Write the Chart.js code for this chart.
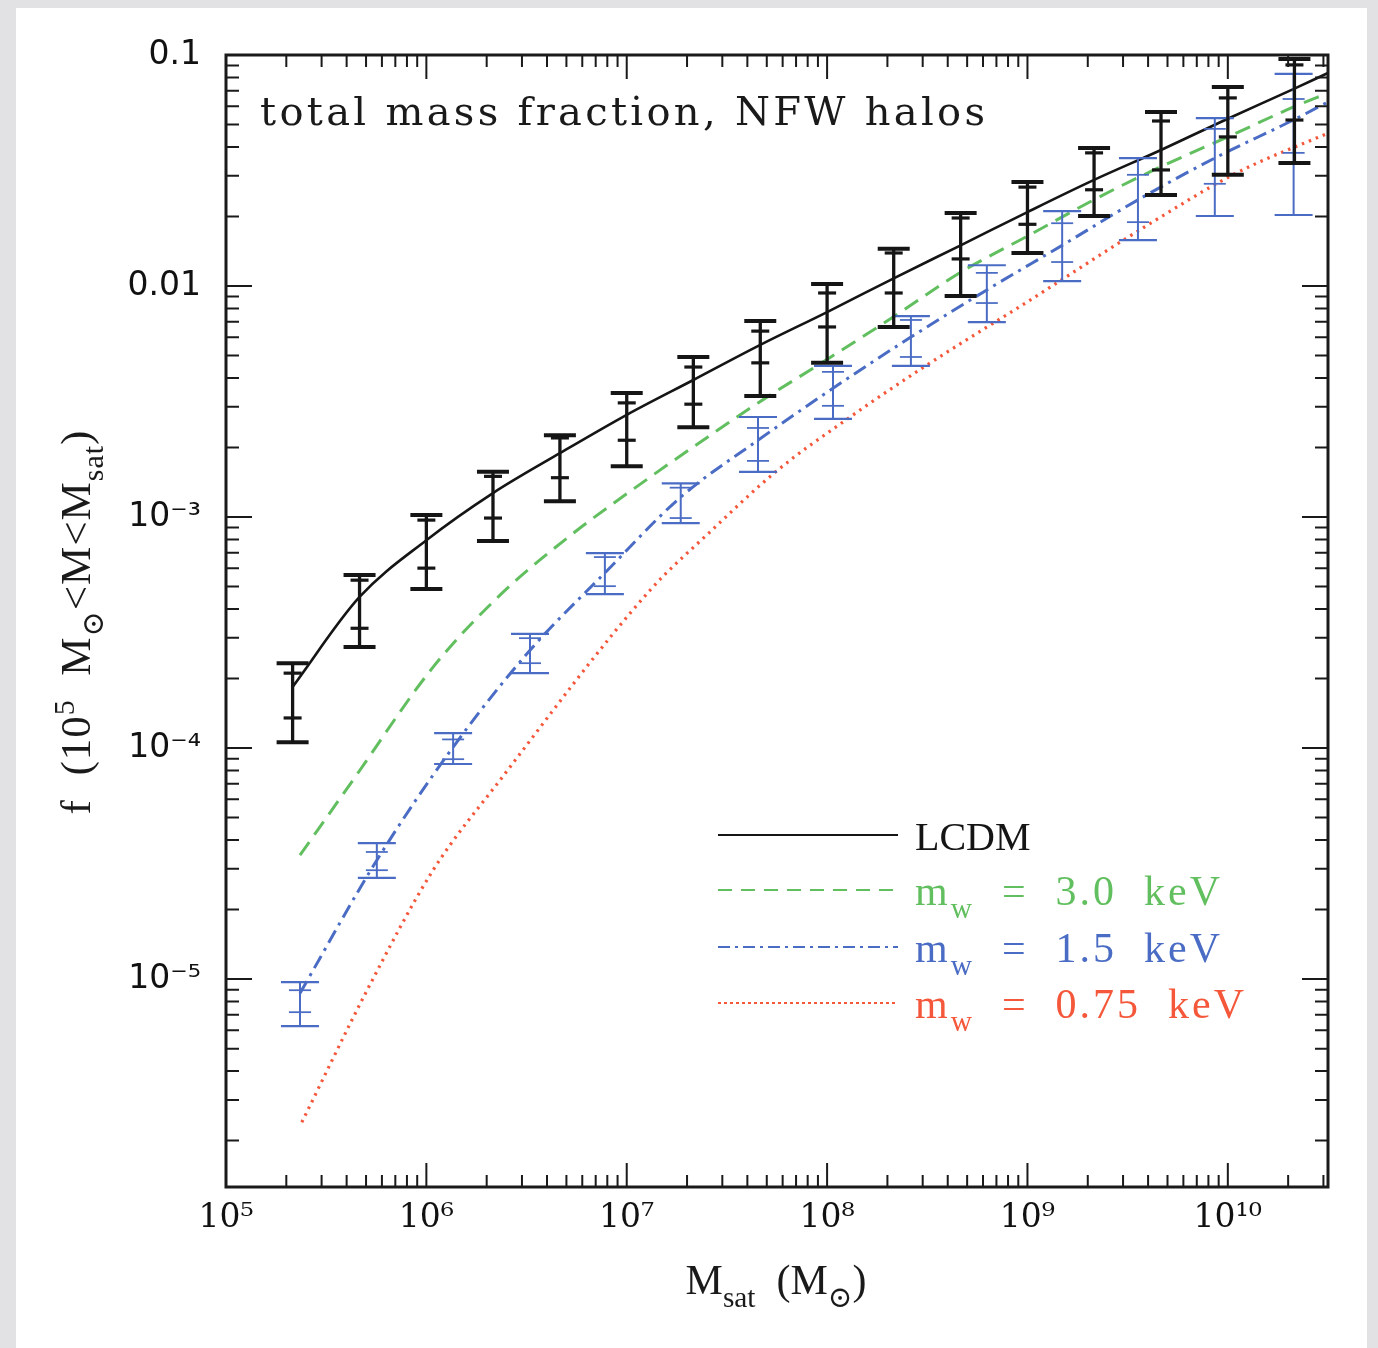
<!DOCTYPE html>
<html>
<head>
<meta charset="utf-8">
<script src="https://cdn.jsdelivr.net/npm/chart.js@4.4.1/dist/chart.umd.min.js"></script>
<style>
  html, body { margin: 0; padding: 0; background: #e2e2e4; }
  #panel { position: absolute; left: 16px; top: 8px; width: 1351px; height: 1340px; background: #fff; }
  #wrap { position: absolute; left: 0; top: 0; width: 1378px; height: 1348px; }
</style>
</head>
<body>
<div id="panel"></div>
<div id="wrap"><canvas id="c" width="1378" height="1348"></canvas></div>
<script>
// axis ticks
const xTicks = [1e5, 1e6, 1e7, 1e8, 1e9, 1e10];
const xTickLabels = ['10⁵', '10⁶', '10⁷', '10⁸', '10⁹', '10¹⁰'];
const yTicks = [1e-5, 1e-4, 1e-3, 0.01, 0.1];
const yTickLabels = ['10⁻⁵', '10⁻⁴', '10⁻³', '0.01', '0.1'];

// LCDM model curve
const lcdmX = [2.15e5, 4.64e5, 1e6, 2.15e6, 4.64e6, 1e7, 2.15e7, 4.64e7, 1e8, 2.15e8, 4.64e8, 1e9, 2.15e9, 4.64e9, 1e10, 2.15e10, 3.16e10];
const lcdmY = [1.84e-4, 4.51e-4, 7.94e-4, 1.27e-3, 1.89e-3, 2.77e-3, 3.92e-3, 5.56e-3, 7.71e-3, 0.0108, 0.0150, 0.0209, 0.0288, 0.0388, 0.0530, 0.0715, 0.0836];

// m_w = 3.0 keV
const wdm30X = [2.34e5, 4.30e5, 1.08e6, 2.33e6, 5.04e6, 1.31e7, 2.85e7, 4.52e7, 9.53e7, 2.10e8, 4.66e8, 9.94e8, 2.14e9, 4.28e9, 1.10e10, 2.13e10, 3.16e10];
const wdm30Y = [3.44e-5, 7.26e-5, 2.24e-4, 4.59e-4, 8.11e-4, 1.49e-3, 2.38e-3, 3.12e-3, 4.69e-3, 7.27e-3, 0.0115, 0.0164, 0.0236, 0.0318, 0.0459, 0.0596, 0.0684];

// m_w = 1.5 keV
const wdm15X = [2.34e5, 5.66e5, 1.36e6, 3.29e6, 7.78e6, 1.86e7, 4.52e7, 1.07e8, 2.62e8, 6.27e8, 1.49e9, 3.56e9, 8.61e9, 2.13e10, 3.16e10];
const wdm15Y = [8.69e-6, 3.27e-5, 1.01e-4, 2.65e-4, 5.73e-4, 1.22e-3, 2.15e-3, 3.61e-3, 6.01e-3, 9.62e-3, 0.0150, 0.0236, 0.0358, 0.0524, 0.0626];

// m_w = 0.75 keV
const wdm075X = [2.39e5, 5.06e5, 1.08e6, 2.33e6, 1.31e7, 2.57e7, 5.69e7, 1.24e8, 3.04e8, 1.03e9, 3.64e9, 1.10e10, 3.16e10];
const wdm075Y = [2.40e-6, 8.95e-6, 2.96e-5, 7.26e-5, 4.83e-4, 8.53e-4, 1.60e-3, 2.63e-3, 4.46e-3, 8.69e-3, 0.0175, 0.0308, 0.0459];

// LCDM simulation points: outer and inner error ranges
const lcdmPtX = [2.15e5, 4.64e5, 1e6, 2.15e6, 4.64e6, 1e7, 2.15e7, 4.64e7, 1e8, 2.15e8, 4.64e8, 1e9, 2.15e9, 4.64e9, 1e10, 2.15e10];
const lcdmOutHi = [2.33e-4, 5.61e-4, 1.02e-3, 1.57e-3, 2.26e-3, 3.44e-3, 4.93e-3, 7.05e-3, 0.0102, 0.0145, 0.0207, 0.0282, 0.0396, 0.0566, 0.0727, 0.0961];
const lcdmInHi  = [2.11e-4, 5.33e-4, 9.70e-4, 1.50e-3, 2.20e-3, 3.12e-3, 4.46e-3, 6.38e-3, 9.33e-3, 0.0139, 0.0197, 0.0268, 0.0377, 0.0518, 0.0652, 0.0906];
const lcdmInLo  = [1.35e-4, 3.30e-4, 6.01e-4, 9.90e-4, 1.48e-3, 2.15e-3, 3.08e-3, 4.65e-3, 6.65e-3, 9.33e-3, 0.0131, 0.0185, 0.0261, 0.0318, 0.0442, 0.0523];
const lcdmOutLo = [1.06e-4, 2.74e-4, 4.88e-4, 7.87e-4, 1.17e-3, 1.66e-3, 2.45e-3, 3.34e-3, 4.65e-3, 6.65e-3, 9.06e-3, 0.0139, 0.0201, 0.0248, 0.0303, 0.0341];

// m_w = 1.5 keV simulation points
const wdmPtX = [2.34e5, 5.66e5, 1.36e6, 3.29e6, 7.78e6, 1.86e7, 4.52e7, 1.07e8, 2.62e8, 6.27e8, 1.49e9, 3.56e9, 8.61e9, 2.13e10];
const wdmOutHi = [9.70e-6, 3.88e-5, 1.16e-4, 3.12e-4, 6.98e-4, 1.40e-3, 2.71e-3, 4.51e-3, 7.41e-3, 0.0123, 0.0211, 0.0358, 0.0533, 0.0828];
const wdmInHi  = [8.95e-6, 3.55e-5, 1.09e-4, 2.99e-4, 6.71e-4, 1.34e-3, 2.43e-3, 4.25e-3, 7.13e-3, 0.0114, 0.0187, 0.0303, 0.0479, 0.0645];
const wdmInLo  = [7.19e-6, 2.96e-5, 8.95e-5, 2.33e-4, 5.02e-4, 9.90e-4, 1.75e-3, 3.03e-3, 4.93e-3, 8.44e-3, 0.0127, 0.0189, 0.0277, 0.0377];
const wdmOutLo = [6.26e-6, 2.74e-5, 8.53e-5, 2.11e-4, 4.64e-4, 9.42e-4, 1.57e-3, 2.66e-3, 4.51e-3, 6.98e-3, 0.0105, 0.0158, 0.0201, 0.0203];

const legendLabels = [
  [{ t: 'LCDM' }],
  [{ t: 'm' }, { t: 'w', s: 'sub' }, { t: '  =  3.0  keV' }],
  [{ t: 'm' }, { t: 'w', s: 'sub' }, { t: '  =  1.5  keV' }],
  [{ t: 'm' }, { t: 'w', s: 'sub' }, { t: '  =  0.75  keV' }]
];

const BLACK = '#151515', GREEN = '#62bf5f', BLUE = '#4a6cc4', RED = '#f4573a';
const SERIF = '"Liberation Serif", "DejaVu Serif", serif';

const pts = (xs, ys) => xs.map((x, i) => ({ x: x, y: ys[i] }));

function drawParts(ctx, parts, x, y, size, measureOnly, family) {
  let cx = x;
  parts.forEach(p => {
    const fs = p.s ? size * 0.7 : size;
    ctx.font = fs + 'px ' + (family || SERIF);
    const dy = p.s === 'sub' ? size * 0.3 : p.s === 'sup' ? -size * 0.38 : 0;
    if (!measureOnly) ctx.fillText(p.t, cx, y + dy);
    cx += ctx.measureText(p.t).width;
  });
  return cx - x;
}

const extras = {
  id: 'extras',
  afterDatasetsDraw(chart) {
    const ctx = chart.ctx, xs = chart.scales.x, ys = chart.scales.y;
    const bars = (px, outHi, inHi, inLo, outLo, color, lw, capOut, capIn, capW) => {
      ctx.save();
      ctx.strokeStyle = color;
      ctx.lineCap = 'butt';
      px.forEach((v, i) => {
        const x = xs.getPixelForValue(v);
        const hLine = (val, half, w) => {
          const y = ys.getPixelForValue(val);
          ctx.lineWidth = w;
          ctx.beginPath(); ctx.moveTo(x - half, y); ctx.lineTo(x + half, y); ctx.stroke();
        };
        ctx.lineWidth = lw;
        ctx.beginPath();
        ctx.moveTo(x, ys.getPixelForValue(outHi[i]));
        ctx.lineTo(x, ys.getPixelForValue(outLo[i]));
        ctx.stroke();
        hLine(outHi[i], capOut, capW); hLine(outLo[i], capOut, capW);
        hLine(inHi[i], capIn, capW * 0.8); hLine(inLo[i], capIn, capW * 0.8);
      });
      ctx.restore();
    };
    bars(wdmPtX, wdmOutHi, wdmInHi, wdmInLo, wdmOutLo, BLUE, 2, 19, 11, 2.2);
    bars(lcdmPtX, lcdmOutHi, lcdmInHi, lcdmInLo, lcdmOutLo, BLACK, 3.3, 16, 9, 4);
  },
  afterDraw(chart) {
    const ctx = chart.ctx, a = chart.chartArea, xs = chart.scales.x, ys = chart.scales.y;
    ctx.save();
    // frame
    ctx.strokeStyle = '#1a1a1a';
    ctx.lineWidth = 3;
    ctx.strokeRect(a.left, a.top, a.right - a.left, a.bottom - a.top);
    // inward ticks on all four sides
    ctx.lineWidth = 2;
    for (let d = 5; d <= 10; d++) {
      for (let m = 1; m <= 9; m++) {
        const v = m * Math.pow(10, d);
        if (v <= xs.min || v > xs.max) continue;
        const px = xs.getPixelForValue(v), len = m === 1 ? 24 : 12;
        ctx.beginPath();
        ctx.moveTo(px, a.bottom); ctx.lineTo(px, a.bottom - len);
        ctx.moveTo(px, a.top); ctx.lineTo(px, a.top + len);
        ctx.stroke();
      }
    }
    for (let d = -6; d <= -1; d++) {
      for (let m = 1; m <= 9; m++) {
        const v = m * Math.pow(10, d);
        if (v < ys.min || v >= ys.max) continue;
        const py = ys.getPixelForValue(v), len = m === 1 ? 26 : 13;
        ctx.beginPath();
        ctx.moveTo(a.left, py); ctx.lineTo(a.left + len, py);
        ctx.moveTo(a.right, py); ctx.lineTo(a.right - len, py);
        ctx.stroke();
      }
    }

    // title inside the plot
    ctx.fillStyle = '#1a1a1a';
    ctx.textBaseline = 'alphabetic';
    ctx.textAlign = 'left';
    const title = 'total mass fraction, NFW halos';
    ctx.font = '40px "DejaVu Serif", serif';
    const tw = ctx.measureText(title).width;
    ctx.letterSpacing = ((725 - tw) / (title.length - 1)).toFixed(2) + 'px';
    ctx.fillText(title, 260, 125);
    ctx.letterSpacing = '0px';

    // legend
    const colors = [BLACK, GREEN, BLUE, RED];
    const dashes = [[], [14, 9], [12, 5, 3, 5], [3, 3]];
    const rowY = [835, 890, 947, 1003];
    chart.data.datasets.forEach((ds, i) => {
      const y = rowY[i];
      ctx.strokeStyle = colors[i];
      ctx.lineWidth = 2.2;
      ctx.setLineDash(dashes[i]);
      ctx.beginPath(); ctx.moveTo(718, y); ctx.lineTo(898, y); ctx.stroke();
      ctx.setLineDash([]);
      ctx.fillStyle = colors[i];
      ctx.letterSpacing = i === 0 ? '0px' : '3px';
      drawParts(ctx, legendLabels[i], 915, y + 15, i === 0 ? 40 : 42);
      ctx.letterSpacing = '0px';
    });

    // axis titles
    ctx.fillStyle = '#1a1a1a';
    const xTitle = [{ t: 'M' }, { t: 'sat', s: 'sub' }, { t: '  (M' }, { t: '⊙', s: 'sub' }, { t: ')' }];
    const xw = drawParts(ctx, xTitle, 0, 0, 42, true);
    drawParts(ctx, xTitle, 776 - xw / 2, 1294, 42);

    const yTitle = [{ t: 'f  (10' }, { t: '5', s: 'sup' }, { t: '  M' }, { t: '⊙', s: 'sub' }, { t: '<M<M' }, { t: 'sat', s: 'sub' }, { t: ')' }];
    ctx.translate(90, 622);
    ctx.rotate(-Math.PI / 2);
    ctx.letterSpacing = '1px';
    const yw = drawParts(ctx, yTitle, 0, 0, 43, true);
    drawParts(ctx, yTitle, -yw / 2, 0, 43);
    ctx.restore();
  }
};

new Chart(document.getElementById('c'), {
  type: 'line',
  data: {
    datasets: [
      { label: 'LCDM', data: pts(lcdmX, lcdmY), borderColor: BLACK, borderWidth: 2.6 },
      { label: 'm_w = 3.0 keV', data: pts(wdm30X, wdm30Y), borderColor: GREEN, borderWidth: 3, borderDash: [16, 9] },
      { label: 'm_w = 1.5 keV', data: pts(wdm15X, wdm15Y), borderColor: BLUE, borderWidth: 3, borderDash: [14, 6, 3, 6] },
      { label: 'm_w = 0.75 keV', data: pts(wdm075X, wdm075Y), borderColor: RED, borderWidth: 3.2, borderDash: [2.5, 5] }
    ].map((d, i) => Object.assign(d, { fill: false, pointRadius: 0, cubicInterpolationMode: 'monotone', order: i }))
  },
  options: {
    responsive: false,
    animation: false,
    devicePixelRatio: 1,
    layout: { padding: { top: 55, right: 50, left: 0, bottom: 0 } },
    plugins: { legend: { display: false }, tooltip: { enabled: false } },
    scales: {
      x: {
        type: 'logarithmic', min: 1e5, max: 3.162e10,
        afterFit: s => { s.height = 161; },
        afterBuildTicks: s => { s.ticks = xTicks.map(v => ({ value: v })); },
        grid: { display: false, drawTicks: false },
        border: { display: false },
        ticks: {
          autoSkip: false, maxRotation: 0, padding: 12, color: '#111',
          font: { family: 'DejaVu Serif', size: 33 },
          callback: (v, i) => xTickLabels[i]
        }
      },
      y: {
        type: 'logarithmic', min: 1.259e-6, max: 0.1,
        afterFit: s => { s.width = 226; },
        afterBuildTicks: s => { s.ticks = yTicks.map(v => ({ value: v })); },
        grid: { display: false, drawTicks: false },
        border: { display: false },
        ticks: {
          autoSkip: false, padding: 25, color: '#111',
          font: { family: 'DejaVu Sans', size: 33 },
          callback: (v, i) => yTickLabels[i]
        }
      }
    }
  },
  plugins: [extras]
});
</script>
</body>
</html>
